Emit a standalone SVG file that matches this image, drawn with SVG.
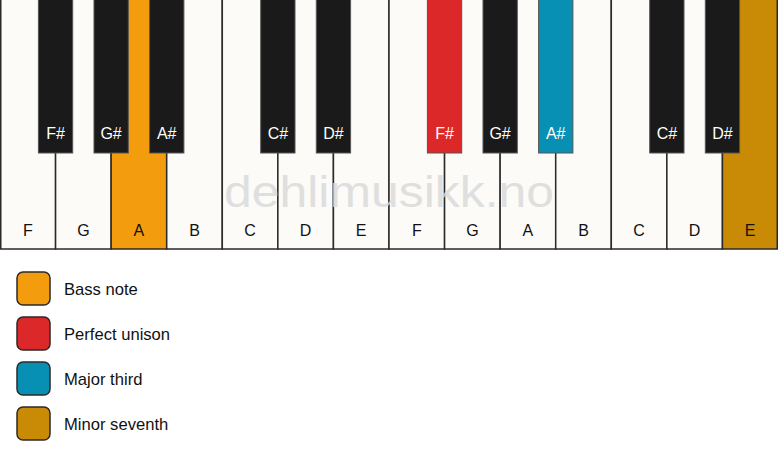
<svg xmlns="http://www.w3.org/2000/svg" width="778" height="461" viewBox="0 0 778 461">
<style>
.w{fill:#fcfbf8;stroke:#2a2a2a;stroke-width:1.5}
.b{fill:#1a1a1a;stroke:#555;stroke-width:1}
.wt{font-family:"Liberation Sans",Arial,sans-serif;font-size:16px;fill:#111;text-anchor:middle}
.bt{font-family:"Liberation Sans",Arial,sans-serif;font-size:16px;fill:#fff;text-anchor:middle}
.lg{stroke:#2a2a2a;stroke-width:1.5}
.lt{font-family:"Liberation Sans",Arial,sans-serif;font-size:16.6px;fill:#111}
.wm{font-family:"Liberation Sans",Arial,sans-serif;font-size:45px;fill:#d9d9d9;opacity:0.8;text-anchor:middle}
</style>
<rect x="0" y="0" width="778" height="461" fill="#ffffff"/>
<g id="white-keys">
<g id="w-F1"><rect class="w" x="0.75" y="-2" width="54.82" height="251"/><text class="wt" x="27.8" y="236">F</text></g>
<g id="w-G1"><rect class="w" x="55.57" y="-2" width="55.57" height="251"/><text class="wt" x="83.4" y="236">G</text></g>
<g id="w-A1"><rect class="w" x="111.14" y="-2" width="55.57" height="251" style="fill:#f39c0e"/><text class="wt" x="138.9" y="236">A</text></g>
<g id="w-B1"><rect class="w" x="166.71" y="-2" width="55.57" height="251"/><text class="wt" x="194.5" y="236">B</text></g>
<g id="w-C1"><rect class="w" x="222.29" y="-2" width="55.57" height="251"/><text class="wt" x="250.1" y="236">C</text></g>
<g id="w-D1"><rect class="w" x="277.86" y="-2" width="55.57" height="251"/><text class="wt" x="305.6" y="236">D</text></g>
<g id="w-E1"><rect class="w" x="333.43" y="-2" width="55.57" height="251"/><text class="wt" x="361.2" y="236">E</text></g>
<g id="w-F2"><rect class="w" x="389" y="-2" width="55.57" height="251"/><text class="wt" x="416.8" y="236">F</text></g>
<g id="w-G2"><rect class="w" x="444.57" y="-2" width="55.57" height="251"/><text class="wt" x="472.4" y="236">G</text></g>
<g id="w-A2"><rect class="w" x="500.14" y="-2" width="55.57" height="251"/><text class="wt" x="527.9" y="236">A</text></g>
<g id="w-B2"><rect class="w" x="555.71" y="-2" width="55.57" height="251"/><text class="wt" x="583.5" y="236">B</text></g>
<g id="w-C2"><rect class="w" x="611.29" y="-2" width="55.57" height="251"/><text class="wt" x="639.1" y="236">C</text></g>
<g id="w-D2"><rect class="w" x="666.86" y="-2" width="55.57" height="251"/><text class="wt" x="694.6" y="236">D</text></g>
<g id="w-E2"><rect class="w" x="722.43" y="-2" width="54.82" height="251" style="fill:#c98a05"/><text class="wt" x="750.2" y="236">E</text></g>
</g>
<text class="wm" x="389" y="207" textLength="330" lengthAdjust="spacingAndGlyphs">dehlimusikk.no</text>
<g id="black-keys">
<g id="b-Fs1"><rect class="b" x="38.4" y="-2" width="34.3" height="155"/><text class="bt" x="55.6" y="139">F#</text></g>
<g id="b-Gs1"><rect class="b" x="94" y="-2" width="34.3" height="155"/><text class="bt" x="111.1" y="139">G#</text></g>
<g id="b-As1"><rect class="b" x="149.6" y="-2" width="34.3" height="155"/><text class="bt" x="166.7" y="139">A#</text></g>
<g id="b-Cs1"><rect class="b" x="260.7" y="-2" width="34.3" height="155"/><text class="bt" x="277.9" y="139">C#</text></g>
<g id="b-Ds1"><rect class="b" x="316.3" y="-2" width="34.3" height="155"/><text class="bt" x="333.4" y="139">D#</text></g>
<g id="b-Fs2"><rect class="b" x="427.4" y="-2" width="34.3" height="155" style="fill:#dc2828"/><text class="bt" x="444.6" y="139">F#</text></g>
<g id="b-Gs2"><rect class="b" x="483" y="-2" width="34.3" height="155"/><text class="bt" x="500.1" y="139">G#</text></g>
<g id="b-As2"><rect class="b" x="538.6" y="-2" width="34.3" height="155" style="fill:#0890b4"/><text class="bt" x="555.7" y="139">A#</text></g>
<g id="b-Cs2"><rect class="b" x="649.7" y="-2" width="34.3" height="155"/><text class="bt" x="666.9" y="139">C#</text></g>
<g id="b-Ds2"><rect class="b" x="705.3" y="-2" width="34.3" height="155"/><text class="bt" x="722.4" y="139">D#</text></g>
</g>
<g id="legend">
<g id="lg-bass"><rect class="lg" x="17" y="272" width="33" height="33" rx="6" fill="#f39c0e"/><text class="lt" x="64" y="295">Bass note</text></g>
<g id="lg-unison"><rect class="lg" x="17" y="317" width="33" height="33" rx="6" fill="#dc2828"/><text class="lt" x="64" y="340">Perfect unison</text></g>
<g id="lg-third"><rect class="lg" x="17" y="362" width="33" height="33" rx="6" fill="#0890b4"/><text class="lt" x="64" y="385">Major third</text></g>
<g id="lg-seventh"><rect class="lg" x="17" y="407" width="33" height="33" rx="6" fill="#c98a05"/><text class="lt" x="64" y="430">Minor seventh</text></g>
</g>
</svg>
